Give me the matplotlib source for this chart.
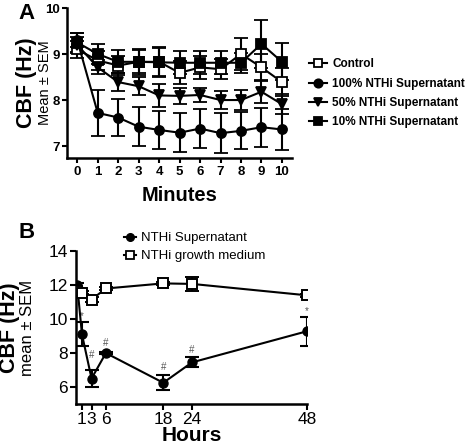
import numpy as np
import matplotlib.pyplot as plt
from matplotlib.lines import Line2D

plt.rcParams['font.family'] = ['Liberation Sans', 'DejaVu Sans']

# Panel A data (minutes)
minutes = [0, 1, 2, 3, 4, 5, 6, 7, 8, 9, 10]
ctrl = [9.10, 8.86, 8.75, 8.83, 8.83, 8.59, 8.71, 8.67, 9.00, 8.71, 8.39]
ctrl_err = [0.18, 0.20, 0.20, 0.28, 0.33, 0.25, 0.25, 0.22, 0.35, 0.30, 0.30]
s100 = [9.30, 7.72, 7.62, 7.42, 7.35, 7.29, 7.38, 7.28, 7.33, 7.41, 7.36]
s100_err = [0.15, 0.50, 0.41, 0.42, 0.41, 0.43, 0.42, 0.43, 0.40, 0.42, 0.44]
s50 = [9.20, 8.71, 8.39, 8.30, 8.10, 8.09, 8.11, 8.00, 8.00, 8.18, 7.91]
s50_err = [0.18, 0.15, 0.20, 0.20, 0.25, 0.18, 0.15, 0.20, 0.22, 0.25, 0.22]
s10 = [9.25, 9.00, 8.83, 8.83, 8.82, 8.81, 8.81, 8.81, 8.81, 9.22, 8.83]
s10_err = [0.20, 0.22, 0.25, 0.25, 0.30, 0.25, 0.25, 0.25, 0.22, 0.52, 0.40]

# Panel B data (hours)
hours = [0, 1, 3, 6, 18, 24, 48]
sup = [12.0, 9.1, 6.5, 8.0, 6.25, 7.45, 9.28]
sup_err = [0.15, 0.7, 0.5, 0.08, 0.45, 0.3, 0.85]
med = [11.65, 11.55, 11.15, 11.8, 12.1, 12.07, 11.4]
med_err = [0.1, 0.1, 0.15, 0.1, 0.1, 0.4, 0.1]
sig_marks = ['*', '#', '#', '#', '#', '*']
sig_x = [1, 3, 6, 18, 24, 48]
sig_y = [10.15, 7.9, 8.6, 7.15, 8.2, 10.45]

fig = plt.figure(figsize=(4.72, 4.47), dpi=100)

# ---- Panel A
axA = fig.add_axes([0.142, 0.6465, 0.477, 0.3356])
series = [
    (ctrl, ctrl_err, 's', 'white', 'Control'),
    (s100, s100_err, 'o', 'black', '100% NTHi Supernatant'),
    (s50, s50_err, 'v', 'black', '50% NTHi Supernatant'),
    (s10, s10_err, 's', 'black', '10% NTHi Supernatant'),
]
handlesA = []
for vals, err, mk, fc, lab in series:
    axA.errorbar(minutes, vals, yerr=err, color='black', marker=mk, mfc=fc,
                 mec='black', ms=6.5, mew=1.3, lw=1.5, elinewidth=1.5,
                 capsize=5, capthick=1.5)
    handlesA.append(Line2D([], [], color='black', marker=mk, mfc=fc, mec='black',
                           ms=6, mew=1.3, lw=1.5, label=lab))
axA.set_xlim(-0.5, 10.5)
axA.set_ylim(6.74, 10)
axA.set_xticks(minutes)
axA.set_yticks([7, 8, 9, 10])
for s in ['top', 'right']:
    axA.spines[s].set_visible(False)
for s in ['left', 'bottom']:
    axA.spines[s].set_linewidth(1.8)
axA.tick_params(width=1.5, length=3.5, labelsize=9.5, pad=2)
for t in axA.get_xticklabels() + axA.get_yticklabels():
    t.set_fontweight('bold')
axA.set_xlabel('Minutes', fontsize=14.5, fontweight='bold', labelpad=6)
axA.text(-0.18, 0.5, 'CBF (Hz)', transform=axA.transAxes, rotation=90,
         ha='center', va='center', fontsize=15.5, fontweight='bold')
axA.text(-0.098, 0.5, 'Mean \u00b1 SEM', transform=axA.transAxes, rotation=90,
         ha='center', va='center', fontsize=10.5)
fig.legend(handles=handlesA, loc='upper left', bbox_to_anchor=(0.645, 0.88),
           frameon=False, prop={'weight': 'bold', 'size': 8.5},
           handlelength=1.5, handletextpad=0.45, labelspacing=0.62,
           borderaxespad=0)
fig.text(0.057, 0.97, 'A', fontsize=16, fontweight='bold', ha='center', va='center')

# ---- Panel B
axB = fig.add_axes([0.161, 0.0962, 0.489, 0.342])
axB.errorbar(hours, sup, yerr=sup_err, color='black', marker='o', mfc='black',
             ms=6.5, lw=1.5, elinewidth=1.5, capsize=5, capthick=1.5, zorder=3)
axB.errorbar(hours, med, yerr=med_err, color='black', marker='s', mfc='white',
             mec='black', ms=7, mew=1.4, lw=1.5, elinewidth=1.5, capsize=5,
             capthick=1.5, zorder=3)
for xm, ym, sm in zip(sig_x, sig_y, sig_marks):
    axB.text(xm, ym, sm, ha='center', va='center', fontsize=7, color='#555555')
axB.set_xlim(-0.25, 48)
axB.set_ylim(5, 14)
axB.set_xticks([1, 3, 6, 18, 24, 48])
axB.set_yticks([6, 8, 10, 12, 14])
for s in ['top', 'right']:
    axB.spines[s].set_visible(False)
for s in ['left', 'bottom']:
    axB.spines[s].set_linewidth(1.8)
axB.tick_params(width=1.5, length=4, labelsize=12.5, pad=2)
axB.set_xlabel('Hours', fontsize=15, fontweight='bold', labelpad=-1)
axB.text(-0.288, 0.5, 'CBF (Hz)', transform=axB.transAxes, rotation=90,
         ha='center', va='center', fontsize=15.5, fontweight='bold')
axB.text(-0.212, 0.5, 'mean \u00b1 SEM', transform=axB.transAxes, rotation=90,
         ha='center', va='center', fontsize=12)
handlesB = [
    Line2D([], [], color='black', marker='o', mfc='black', ms=5.5, lw=1.5,
           label='NTHi Supernatant'),
    Line2D([], [], color='black', marker='s', mfc='white', mec='black', ms=6,
           mew=1.3, lw=1.5, label='NTHi growth medium'),
]
axB.legend(handles=handlesB, loc='upper left', bbox_to_anchor=(0.252, 0.493),
           bbox_transform=fig.transFigure, frameon=False, fontsize=9.5,
           handlelength=0.9, handletextpad=0.4, labelspacing=0.45,
           borderaxespad=0)
fig.text(0.057, 0.48, 'B', fontsize=16, fontweight='bold', ha='center', va='center')

fig.savefig('out.png', dpi=100)
